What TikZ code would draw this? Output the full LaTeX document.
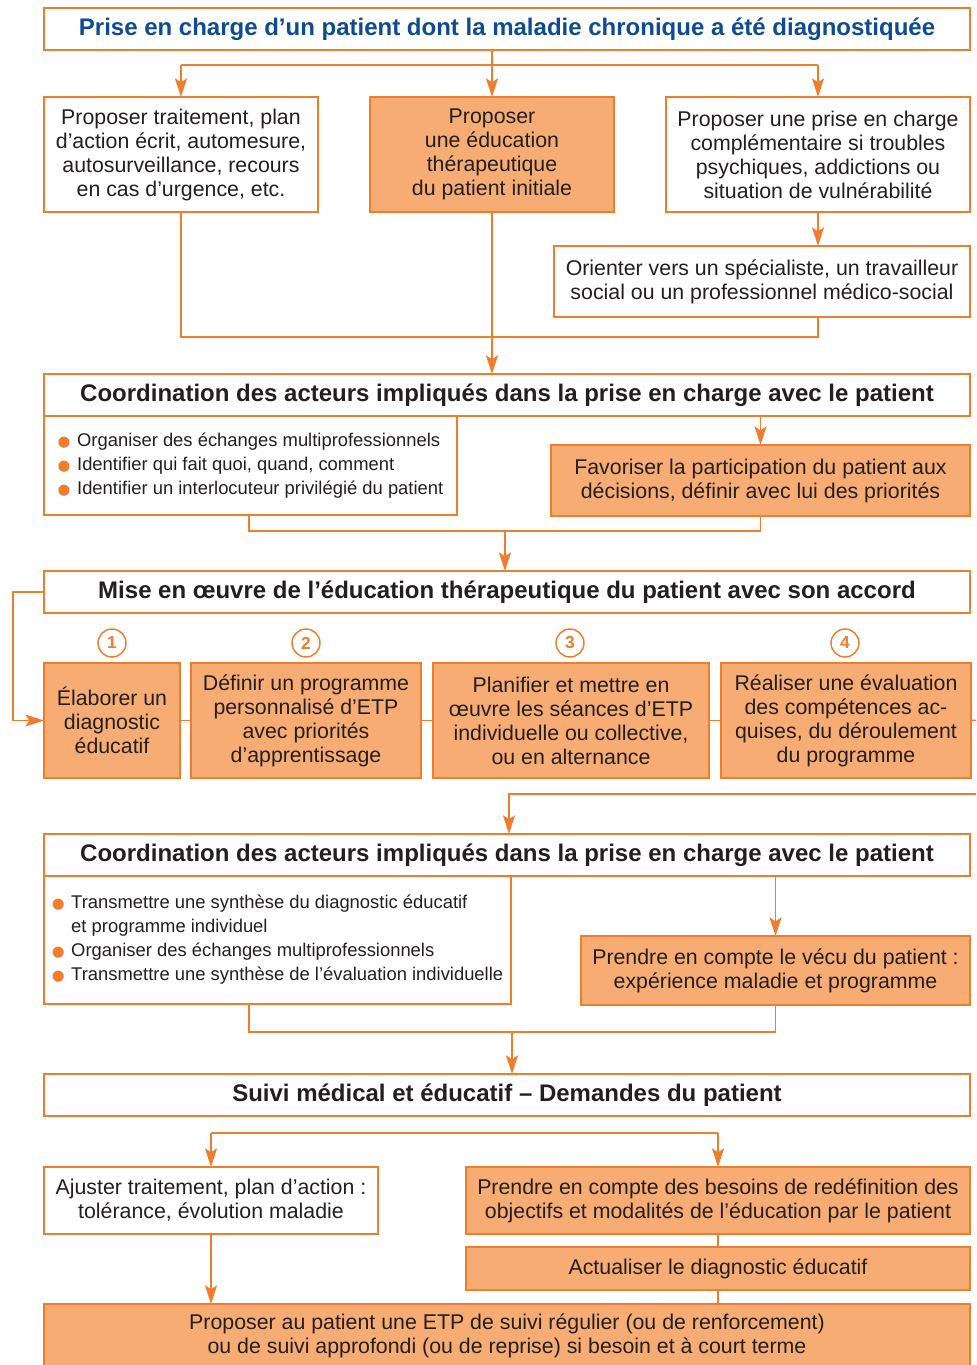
\documentclass[tikz,border=0pt]{standalone}
\usepackage{fontspec}
\setmainfont{Liberation Sans}
\newfontfamily\dejavu{DejaVu Sans}
\usetikzlibrary{arrows.meta}
\definecolor{og}{HTML}{F07D2E}
\definecolor{ofill}{HTML}{F7AC74}
\definecolor{tblue}{HTML}{0E4B91}
\definecolor{tblack}{HTML}{231F20}
\newcommand\txtA{\fontsize{16pt}{18pt}\selectfont}
\newcommand\txtT{\fontsize{18pt}{18pt}\selectfont\bfseries}
\newcommand\txtB{\fontsize{13.8pt}{18pt}\selectfont}
\newcommand\txtN{\fontsize{13pt}{13pt}\selectfont\bfseries}
\newcommand\bul{{\color{og}\dejavu\fontsize{11pt}{11pt}\selectfont ●}\hspace{5pt}}
\newcommand\bulsp{\hphantom{\bul}}
\begin{document}
\begin{tikzpicture}[x=0.75pt,y=-0.75pt,
  box/.style 2 args={draw=og, line width=1.1pt, minimum width=#1*0.75pt, minimum height=#2*0.75pt,
    inner sep=0pt, outer sep=0pt, anchor=north west, align=center, text=tblack, font=\txtA},
  wt/.style={fill=white},
  of/.style={fill=ofill},
  ttl/.style={line width=2.2pt, font=\txtT, fill=white},
  blist/.style={align=left, font=\txtB},
  num/.style={circle, draw=og, line width=1.1pt, minimum size=28*0.75pt, inner sep=0pt, text=og, font=\txtN},
  ln/.style={draw=og, line width=1.1pt},
  arr/.style={ln, -{Stealth[length=14pt,width=9pt,inset=3pt]}}
]
\clip (0,0) rectangle (976,1365);
\fill[white] (0,0) rectangle (976,1365);

% ---------- row 1
\node[box={926}{42}, ttl, text=tblue] (T) at (44,8) {Prise en charge d’un patient dont la maladie chronique a été diagnostiquée};
\node[box={274}{115}, wt] (A) at (44,97) {Proposer traitement, plan\\d’action écrit, automesure,\\autosurveillance, recours\\en cas d’urgence, etc.};
\node[box={244}{115}, of] (B) at (370,97) {Proposer\\une éducation\\thérapeutique\\du patient initiale};
\node[box={304}{115}, wt] (C) at (666,97) {Proposer une prise en charge\\complémentaire si troubles\\psychiques, addictions ou\\situation de vulnérabilité};
\node[box={416}{71}, wt] (D) at (554,246) {Orienter vers un spécialiste, un travailleur\\social ou un professionnel médico-social};

% ---------- coordination 1
\node[box={413}{99}, wt, blist] (L1) at (44,416) {\bul Organiser des échanges multiprofessionnels\\\bul Identifier qui fait quoi, quand, comment\\\bul Identifier un interlocuteur privilégié du patient};
\node[box={926}{42}, ttl] (K1) at (44,374) {Coordination des acteurs impliqués dans la prise en charge avec le patient};
\node[box={419}{71}, of] (F) at (551,445) {Favoriser la participation du patient aux\\décisions, définir avec lui des priorités};

% ---------- mise en oeuvre
\node[box={926}{42}, ttl] (M) at (44,571) {Mise en œuvre de l’éducation thérapeutique du patient avec son accord};
\node[num] (n1) at (112,643) {1};
\node[num] (n2) at (306,643) {2};
\node[num] (n3) at (570,643) {3};
\node[num] (n4) at (845,643) {4};
\node[box={136}{115}, of] (S1) at (44,663) {Élaborer un\\diagnostic\\éducatif};
\node[box={230}{115}, of] (S2) at (191,663) {Définir un programme\\personnalisé d’ETP\\avec priorités\\d’apprentissage};
\node[box={276}{115}, of] (S3) at (433,663) {Planifier et mettre en\\œuvre les séances d’ETP\\individuelle ou collective,\\ou en alternance};
\node[box={250}{115}, of] (S4) at (721,663) {Réaliser une évaluation\\des compétences ac-\\quises, du déroulement\\du programme};

% ---------- coordination 2
\node[box={467}{128}, wt, blist] (L2) at (44,876) {\bul Transmettre une synthèse du diagnostic éducatif\\\bulsp et programme individuel\\\bul Organiser des échanges multiprofessionnels\\\bul Transmettre une synthèse de l’évaluation individuelle};
\node[box={926}{42}, ttl] (K2) at (44,834) {Coordination des acteurs impliqués dans la prise en charge avec le patient};
\node[box={389}{69}, of] (G) at (581,936) {Prendre en compte le vécu du patient :\\expérience maladie et programme};

% ---------- suivi
\node[box={926}{42}, ttl] (Su) at (44,1074) {Suivi médical et éducatif – Demandes du patient};
\node[box={334}{67}, wt] (Aj) at (44,1167) {Ajuster traitement, plan d’action :\\tolérance, évolution maladie};
\node[box={504}{67}, of] (Pr) at (466,1167) {Prendre en compte des besoins de redéfinition des\\objectifs et modalités de l’éducation par le patient};
\node[box={504}{43}, of] (Ac) at (466,1247) {Actualiser le diagnostic éducatif};
\node[box={926}{64}, of] (Fin) at (44,1304) {Proposer au patient une ETP de suivi régulier (ou de renforcement)\\ou de suivi approfondi (ou de reprise) si besoin et à court terme};

% ---------- connectors row 1
\coordinate (j1) at (492,65);
\draw[ln] (j1 |- T.south) -- (j1);
\draw[ln] (A.north |- j1) -- (C.north |- j1);
\draw[arr] (A.north |- j1) -- (A.north);
\draw[arr] (j1) -- (B.north);
\draw[arr] (C.north |- j1) -- (C.north);
\draw[arr] (C.south) -- (C.south |- D.north);
\coordinate (j2) at (492,337);
\draw[ln] (A.south) -- (A.south |- j2) -- (C.south |- j2) -- (C.south |- D.south);
\draw[arr] (B.south) -- (B.south |- K1.north);

% ---------- connectors coordination 1
\draw[arr] (F.north |- K1.south) -- (F.north);
\coordinate (j3) at (505,531);
\coordinate (c3) at (249,531);
\draw[ln] (c3 |- L1.south) -- (c3) -- (F.south |- j3) -- (F.south);
\draw[arr] (j3) -- (j3 |- M.north);

% ---------- connectors mise en oeuvre
\coordinate (lp) at (13,592);
\draw[arr] (M.west) -- (lp) |- (S1.west);
\draw[ln] (S1.east) -- (S2.west);
\draw[ln] (S2.east) -- (S3.west);
\draw[ln] (S3.east) -- (S4.west);
\coordinate (r1) at (990,720);
\coordinate (r2) at (990,794);
\coordinate (j4) at (509,794);
\draw[ln] (S4.east) -- (r1);
\draw[arr] (r2) -- (j4) -- (j4 |- K2.north);

% ---------- connectors coordination 2
\draw[arr] (G.north |- K2.south) -- (G.north);
\coordinate (j5) at (512,1032);
\coordinate (c5) at (249,1032);
\draw[ln] (c5 |- L2.south) -- (c5) -- (G.south |- c5) -- (G.south);
\draw[arr] (j5) -- (j5 |- Su.north);

% ---------- connectors suivi
\coordinate (h) at (211,1133);
\draw[ln] (Aj.north |- h) -- (Pr.north |- h);
\draw[arr] (Aj.north |- h) -- (Aj.north);
\draw[arr] (Pr.north |- h) -- (Pr.north);
\draw[ln] (Pr.south) -- (Ac.north);
\draw[ln] (Ac.south) -- (Ac.south |- Fin.north);
\draw[arr] (Aj.south) -- (Aj.south |- Fin.north);
\end{tikzpicture}
\end{document}
